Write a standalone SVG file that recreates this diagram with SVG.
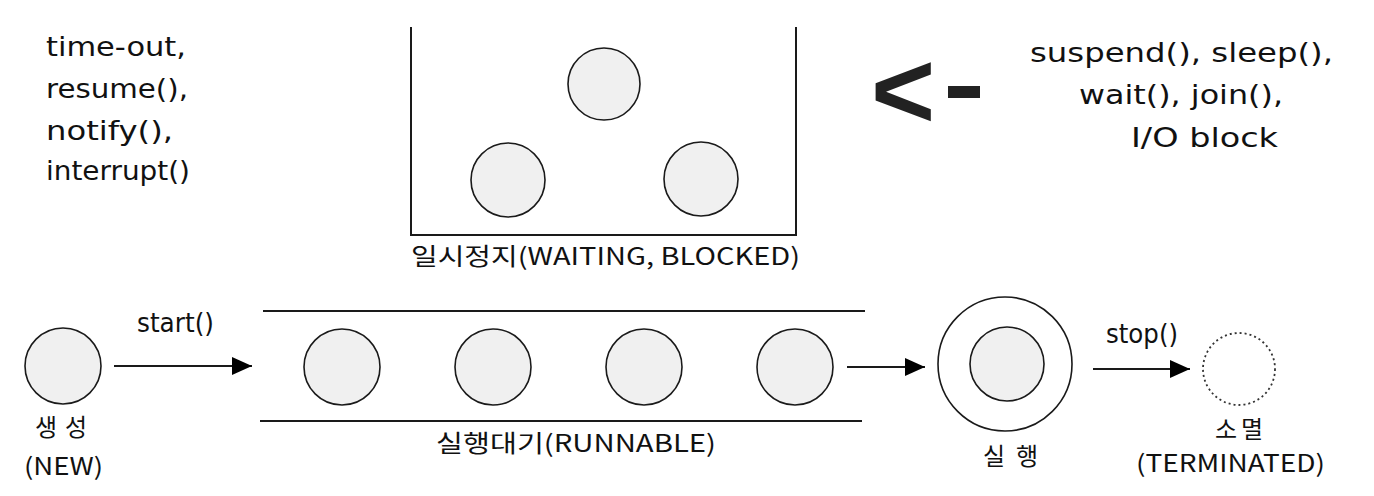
<svg xmlns="http://www.w3.org/2000/svg" width="1374" height="496" viewBox="0 0 1374 496">
<style>
.t{font-family:"DejaVu Sans","Noto Sans CJK KR",sans-serif;font-size:26px;fill:#111}
.k{font-family:"Noto Sans CJK KR","DejaVu Sans",sans-serif;font-size:24px;fill:#111}
.c{fill:#f0f0f0;stroke:#1a1a1a;stroke-width:1.6}
.ln{stroke:#1a1a1a;stroke-width:2;fill:none}
</style>
<defs>
<marker id="ah" viewBox="0 0 20 18" refX="20" refY="9" markerWidth="20" markerHeight="18" markerUnits="userSpaceOnUse" orient="auto">
<path d="M0,0 L20,9 L0,18 Z" fill="#000"/>
</marker>
</defs>
<rect width="1374" height="496" fill="#fff"/>

<g id="resume-label">
<text class="t" x="46" y="56" textLength="140" lengthAdjust="spacingAndGlyphs">time-out,</text>
<text class="t" x="46" y="98" textLength="142" lengthAdjust="spacingAndGlyphs">resume(),</text>
<text class="t" x="46" y="140" textLength="127" lengthAdjust="spacingAndGlyphs">notify(),</text>
<text class="t" x="46" y="180" textLength="144" lengthAdjust="spacingAndGlyphs">interrupt()</text>
</g>

<g id="waiting">
<path class="ln" d="M411,27 V235 H796 V27"/>
<circle class="c" cx="604" cy="84" r="36"/>
<circle class="c" cx="508" cy="180" r="37"/>
<circle class="c" cx="701" cy="179" r="37"/>
<text class="k" x="411" y="265" textLength="389" lengthAdjust="spacingAndGlyphs">일시정지(WAITING, BLOCKED)</text>
</g>

<g id="arrow-symbol">
<text x="871" y="128" font-family="Liberation Sans,sans-serif" font-weight="bold" font-size="110" fill="#222">&lt;</text>
<rect x="948" y="86" width="32" height="12" fill="#222"/>
</g>

<g id="block-label">
<text class="t" x="1030" y="62" textLength="303" lengthAdjust="spacingAndGlyphs">suspend(), sleep(),</text>
<text class="t" x="1079" y="104" textLength="204" lengthAdjust="spacingAndGlyphs">wait(), join(),</text>
<text class="t" x="1131" y="147" textLength="147" lengthAdjust="spacingAndGlyphs">I/O block</text>
</g>

<g id="new">
<circle class="c" cx="63" cy="366" r="38"/>
<text class="k" x="35" y="436" textLength="52" lengthAdjust="spacing">생성</text>
<text class="k" x="24" y="475" textLength="79" lengthAdjust="spacingAndGlyphs">(NEW)</text>
</g>

<g id="runnable">
<line class="ln" x1="263" y1="311" x2="865" y2="311"/>
<line class="ln" x1="260" y1="421" x2="862" y2="421"/>
<ellipse class="c" cx="342" cy="367" rx="38" ry="38"/>
<ellipse class="c" cx="493" cy="367" rx="38" ry="38"/>
<ellipse class="c" cx="644" cy="367" rx="38" ry="38"/>
<ellipse class="c" cx="795" cy="367" rx="38" ry="38"/>
<text class="k" x="436" y="452" textLength="280" lengthAdjust="spacingAndGlyphs">실행대기(RUNNABLE)</text>
</g>

<g id="running">
<circle cx="1005" cy="364" r="67" fill="#fff" stroke="#1a1a1a" stroke-width="1.6"/>
<circle class="c" cx="1007" cy="364" r="37"/>
<text class="k" x="983" y="465" textLength="55" lengthAdjust="spacing">실행</text>
</g>

<g id="terminated">
<circle cx="1239" cy="369" r="36" fill="none" stroke="#333" stroke-width="1.8" stroke-dasharray="2,3"/>
<text class="k" x="1215" y="438" textLength="48" lengthAdjust="spacing">소멸</text>
<text class="k" x="1136" y="472" textLength="189" lengthAdjust="spacingAndGlyphs">(TERMINATED)</text>
</g>

<g id="connectors">
<line class="ln" x1="114" y1="366" x2="252" y2="366" marker-end="url(#ah)"/>
<text class="t" x="137" y="332" font-size="24" textLength="77" lengthAdjust="spacingAndGlyphs">start()</text>
<line class="ln" x1="847" y1="367" x2="925" y2="367" marker-end="url(#ah)"/>
<line class="ln" x1="1093" y1="369" x2="1190" y2="369" marker-end="url(#ah)"/>
<text class="t" x="1106" y="343" font-size="24" textLength="72" lengthAdjust="spacingAndGlyphs">stop()</text>
</g>
</svg>
